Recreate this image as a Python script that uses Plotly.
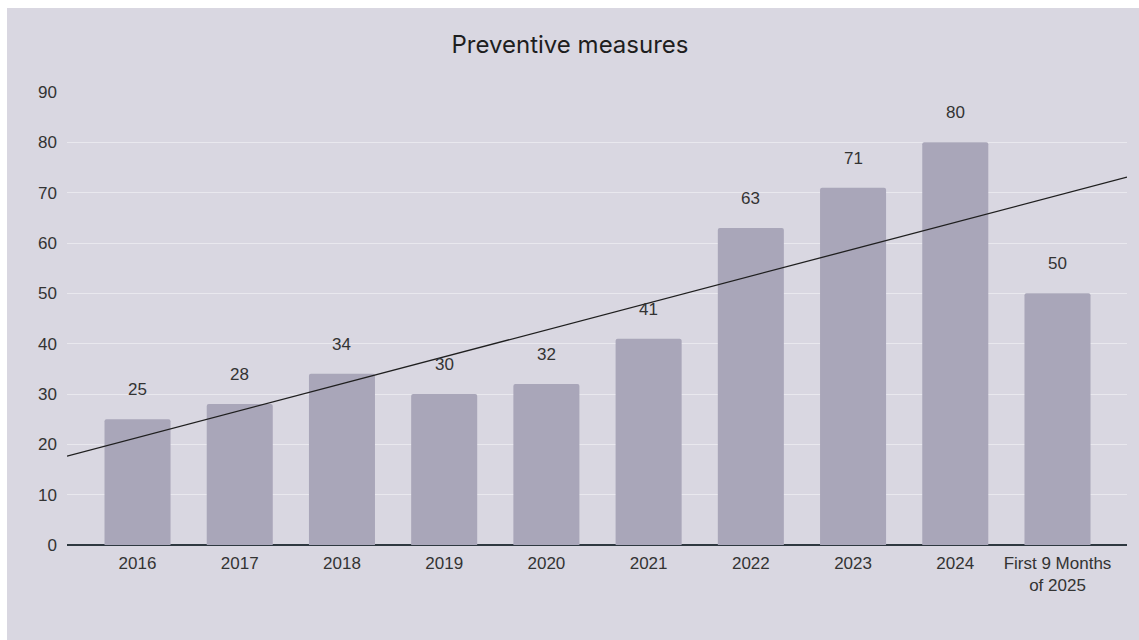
import numpy as np
import plotly.graph_objects as go

categories = ["2016", "2017", "2018", "2019", "2020", "2021", "2022", "2023", "2024",
              "First 9 Months<br>of 2025"]
values = [25, 28, 34, 30, 32, 41, 63, 71, 80, 50]

BG = "#D9D7E1"
BAR = "#A9A6B9"
TXT = "#333333"
FONT = "Liberation Sans, Arial"
FS = 17

x = np.arange(len(categories))
xr = [-0.69, len(categories) - 1 + 0.68]

# linear trendline (least squares on the data)
slope, intercept = np.polyfit(x, values, 1)
tx = np.array(xr)
ty = slope * tx + intercept

fig = go.Figure()
fig.add_trace(go.Bar(x=x, y=values, width=0.646, marker=dict(color=BAR, line=dict(width=0)),
                     hoverinfo="x+y", showlegend=False))
fig.add_trace(go.Scatter(x=tx, y=ty, mode="lines", line=dict(color="#1f1f1f", width=1.3),
                         hoverinfo="skip", showlegend=False))

for xi, v in zip(x, values):
    fig.add_annotation(x=xi, y=v, text=str(v), showarrow=False, yanchor="bottom", yshift=18,
                       font=dict(family=FONT, size=FS, color=TXT))

fig.update_layout(
    width=1139, height=640,
    margin=dict(l=67, r=12, t=92, b=95),
    paper_bgcolor="white",
    plot_bgcolor="rgba(0,0,0,0)",
    barcornerradius=2,
    title=dict(text="Preventive measures", x=570 / 1139, xanchor="center", y=1 - 45 / 640, yanchor="middle",
               font=dict(family="Inter", size=24, color="#1e1e1e")),
    xaxis=dict(range=xr, tickmode="array", tickvals=list(x), ticktext=categories,
               showgrid=False, zeroline=False, showline=False, ticks="", ticklabelstandoff=6,
               tickfont=dict(family=FONT, size=FS, color=TXT), fixedrange=True),
    yaxis=dict(range=[0, 90], tickmode="array", tickvals=list(range(0, 91, 10)),
               showgrid=True, gridcolor="#E9E8EE", gridwidth=1.2,
               zeroline=True, zerolinecolor="#2E3840", zerolinewidth=2,
               showline=False, ticks="", ticklabelstandoff=9,
               tickfont=dict(family=FONT, size=FS, color=TXT), fixedrange=True),
    shapes=[dict(type="rect", xref="paper", yref="paper",
                 x0=(7 - 67) / 1060, x1=(1139 - 67) / 1060 + 0.02,
                 y0=(545 - 660) / 453, y1=(545 - 8) / 453,
                 fillcolor=BG, line=dict(width=0), layer="below")],
)

fig.write_html("out.html")
